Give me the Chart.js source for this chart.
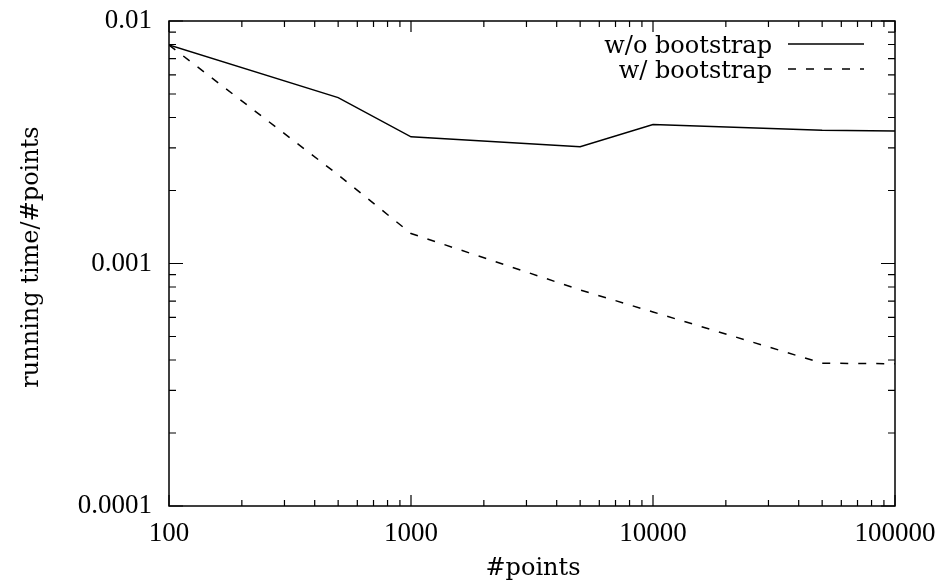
<!DOCTYPE html>
<html>
<head>
<meta charset="utf-8">
<script src="https://cdn.jsdelivr.net/npm/chart.js@4.4.1/dist/chart.umd.min.js"></script>
<style>
html,body{margin:0;padding:0;background:#fff;}
#wrap{width:946px;height:588px;}
</style>
</head>
<body>
<div id="wrap"><canvas id="c" width="946" height="588"></canvas></div>
<script>
// ---- data ----
const xValues = [100, 500, 1000, 5000, 10000, 50000, 100000];
const withoutBootstrap = [0.00796, 0.00483, 0.00333, 0.00303, 0.00374, 0.00354, 0.00352];
const withBootstrap = [0.00796, 0.00232, 0.00133, 0.000778, 0.000631, 0.000388, 0.000386];
const seriesLabels = ['w/o bootstrap', 'w/ bootstrap'];
const xMajorTicks = [100, 1000, 10000, 100000];
const yMajorTicks = [0.0001, 0.001, 0.01];
const xTickLabels = ['100', '1000', '10000', '100000'];
const yTickLabels = ['0.0001', '0.001', '0.01'];
const xTitle = '#points';
const yTitle = 'running time/#points';

const NUMFONT = "'Liberation Serif', 'Times New Roman', serif";
const NUMFS = 27;
const TXTFONT = "'DejaVu Serif', serif";
const TXTFS = 24;

function minorsOf(majors) {
  const out = [];
  for (let i = 0; i < majors.length - 1; i++) {
    for (let k = 2; k <= 9; k++) out.push(majors[i] * k);
  }
  return out;
}

const framePlugin = {
  id: 'frame',
  afterDatasetsDraw(chart) {
    const ctx = chart.ctx;
    const a = chart.chartArea;
    const xs = chart.scales.x, ys = chart.scales.y;
    ctx.save();
    ctx.strokeStyle = '#000';
    ctx.lineWidth = 1.5;
    ctx.strokeRect(a.left, a.top, a.right - a.left, a.bottom - a.top);
    ctx.lineWidth = 1.2;
    ctx.beginPath();
    const tick = (arr, len, horiz) => {
      arr.forEach(v => {
        if (horiz) {
          const p = xs.getPixelForValue(v);
          ctx.moveTo(p, a.bottom); ctx.lineTo(p, a.bottom - len);
          ctx.moveTo(p, a.top); ctx.lineTo(p, a.top + len);
        } else {
          const p = ys.getPixelForValue(v);
          ctx.moveTo(a.left, p); ctx.lineTo(a.left + len, p);
          ctx.moveTo(a.right, p); ctx.lineTo(a.right - len, p);
        }
      });
    };
    tick(xMajorTicks, 11, true);
    tick(minorsOf(xMajorTicks), 6, true);
    tick(yMajorTicks, 14, false);
    tick(minorsOf(yMajorTicks), 7, false);
    ctx.stroke();

    // axis titles
    ctx.fillStyle = '#000';
    ctx.font = TXTFS + 'px ' + TXTFONT;
    ctx.textAlign = 'center';
    ctx.textBaseline = 'alphabetic';
    ctx.fillText(xTitle, (a.left + a.right) / 2 + 1, 575);
    ctx.save();
    ctx.translate(38, 257);
    ctx.rotate(-Math.PI / 2);
    ctx.fillText(yTitle, 0, 0);
    ctx.restore();

    // legend
    ctx.textAlign = 'right';
    ctx.textBaseline = 'alphabetic';
    const rows = [44, 69];
    chart.data.datasets.forEach((ds, i) => {
      const y = rows[i];
      ctx.fillText(ds.label, 772, y + 9);
      ctx.beginPath();
      ctx.lineWidth = 1.5;
      ctx.setLineDash(ds.borderDash || []);
      ctx.moveTo(788, y); ctx.lineTo(864, y);
      ctx.stroke();
      ctx.setLineDash([]);
    });
    ctx.restore();
  }
};

const mk = (ys) => xValues.map((x, i) => ({x: x, y: ys[i]}));

new Chart(document.getElementById('c'), {
  type: 'line',
  data: {
    datasets: [
      { label: seriesLabels[0], data: mk(withoutBootstrap), borderColor: '#000', borderWidth: 1.5, pointRadius: 0, tension: 0, fill: false },
      { label: seriesLabels[1], data: mk(withBootstrap), borderColor: '#000', borderWidth: 1.5, borderDash: [8, 10], pointRadius: 0, tension: 0, fill: false }
    ]
  },
  options: {
    responsive: false,
    animation: false,
    events: [],
    layout: { padding: { top: 21, right: 51, left: 0, bottom: 0 } },
    plugins: { legend: { display: false }, tooltip: { enabled: false } },
    scales: {
      x: {
        type: 'logarithmic', min: 100, max: 100000,
        grid: { display: false, drawTicks: false },
        border: { display: false },
        afterBuildTicks(s) { s.ticks = xMajorTicks.map(v => ({ value: v })); },
        afterFit(s) { s.height = 82; s.paddingLeft = 0; s.paddingRight = 0; },
        ticks: {
          autoSkip: false, maxRotation: 0, padding: 12, color: '#000',
          font: { family: NUMFONT, size: NUMFS },
          callback: (v) => { const i = xMajorTicks.indexOf(v); return i >= 0 ? xTickLabels[i] : ''; }
        },
        title: { display: false }
      },
      y: {
        type: 'logarithmic', min: 0.0001, max: 0.01,
        grid: { display: false, drawTicks: false },
        border: { display: false },
        afterBuildTicks(s) { s.ticks = yMajorTicks.map(v => ({ value: v })); },
        afterFit(s) { s.width = 169; s.paddingTop = 0; s.paddingBottom = 0; },
        ticks: {
          autoSkip: false, padding: 17, color: '#000',
          font: { family: NUMFONT, size: NUMFS },
          callback: (v) => { const i = yMajorTicks.findIndex(t => Math.abs(t - v) / t < 1e-6); return i >= 0 ? yTickLabels[i] : ''; }
        },
        title: { display: false }
      }
    }
  },
  plugins: [framePlugin]
});
</script>
</body>
</html>
